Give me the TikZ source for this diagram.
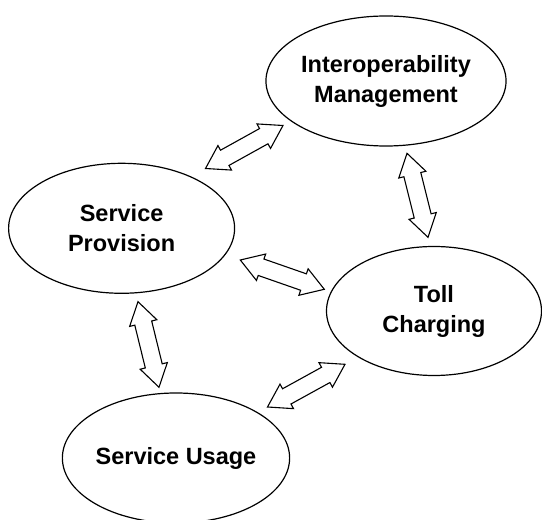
\documentclass[tikz,border=0pt]{standalone}
\usepackage{fontspec}
\setmainfont{Liberation Sans}
\usetikzlibrary{calc,shapes.geometric}
\tikzstyle{stage}=[ellipse, draw, line width=1.2pt, minimum width=225pt, minimum height=130pt, inner sep=0pt, align=center, font=\fontsize{23.5}{30}\selectfont\bfseries]
\tikzstyle{link}=[draw, line width=1.1pt, fill=white]
% hollow two-headed arrow between two points
\newcommand{\twoway}[2]{%
  \draw[link] let \p1=($(#2)-(#1)$), \n1={atan2(\y1,\x1)}, \n2={veclen(\x1,\y1)} in
    [shift={(#1)}, rotate=\n1] (0pt,0pt) -- (22pt,14pt) -- (22pt,8.7pt) -- (\n2-22pt,8.7pt)
    -- (\n2-22pt,14pt) -- (\n2,0pt) -- (\n2-22pt,-14pt) -- (\n2-22pt,-8.7pt)
    -- (22pt,-8.7pt) -- (22pt,-14pt) -- cycle;}

\begin{document}
\begin{tikzpicture}[x=1pt, y=1pt]
                \useasboundingbox (0,0) rectangle (542,520);
                \clip (0,0) rectangle (542,520);
                \node[stage] (im) at (386, 439) {Interoperability\\Management};
                \node[stage, minimum width=226pt] (sp) at (121.6, 291.7) {Service\\Provision};
                \node[stage, minimum width=215pt, minimum height=129pt] (tc) at (434, 209) {Toll\\Charging};
                \node[stage, minimum width=224pt] (su) at (176, 62) {Service Usage};
                % arrow ends
                \coordinate (sp-im) at (205.5, 351.5);
                \coordinate (im-sp) at (283, 394.5);
                \coordinate (im-tc) at (407, 366.7);
                \coordinate (tc-im) at (428, 282.7);
                \coordinate (sp-tc) at (240.3, 260);
                \coordinate (tc-sp) at (324.3, 230.7);
                \coordinate (sp-su) at (138, 218.3);
                \coordinate (su-sp) at (159, 132.7);
                \coordinate (su-tc) at (267.5, 113);
                \coordinate (tc-su) at (345, 155.7);
                \twoway{sp-im}{im-sp}
                \twoway{im-tc}{tc-im}
                \twoway{sp-tc}{tc-sp}
                \twoway{sp-su}{su-sp}
                \twoway{su-tc}{tc-su}
            \end{tikzpicture}
\end{document}
